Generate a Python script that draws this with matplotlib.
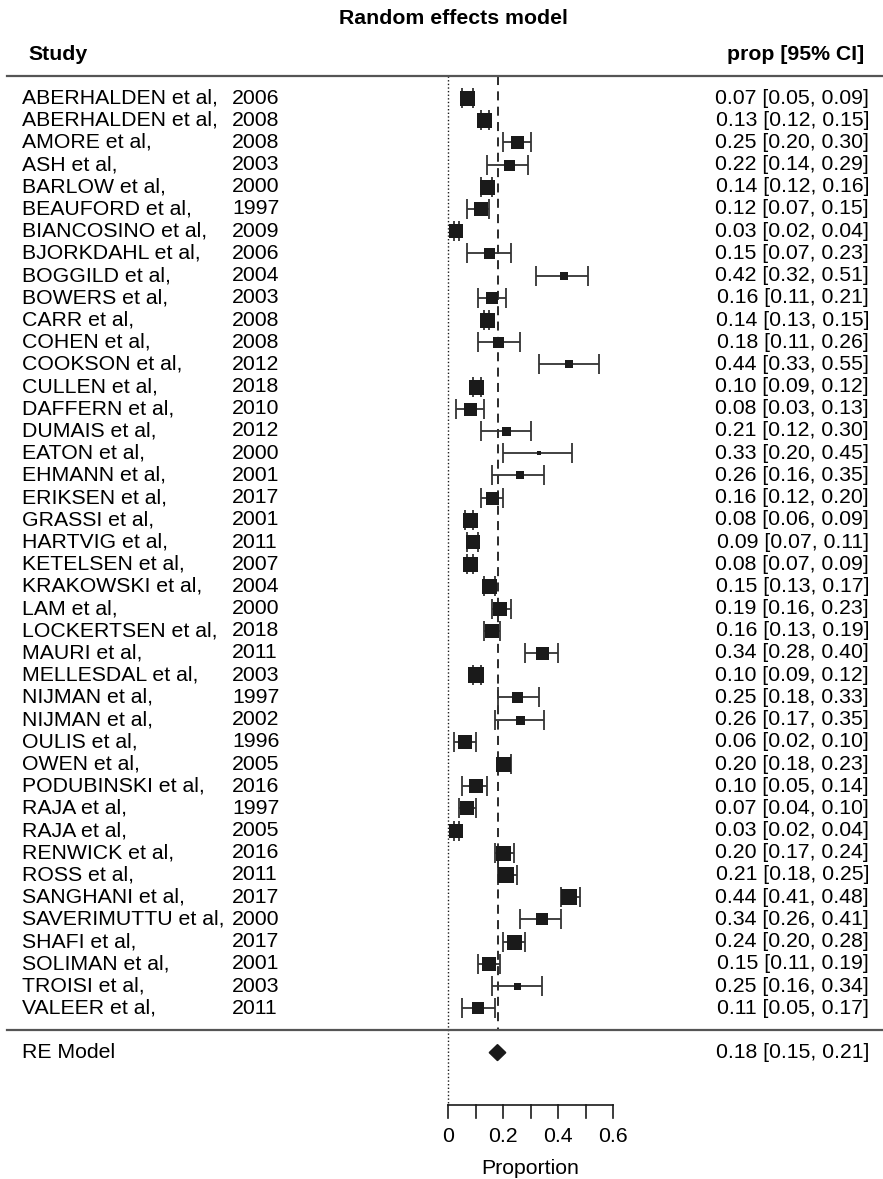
import numpy as np
import matplotlib
matplotlib.use("Agg")
import matplotlib.pyplot as plt
from matplotlib.patches import Polygon

plt.rcParams['font.family'] = ['Liberation Sans', 'DejaVu Sans']

authors = ["ABERHALDEN", "ABERHALDEN", "AMORE", "ASH", "BARLOW", "BEAUFORD",
           "BIANCOSINO", "BJORKDAHL", "BOGGILD", "BOWERS", "CARR", "COHEN",
           "COOKSON", "CULLEN", "DAFFERN", "DUMAIS", "EATON", "EHMANN",
           "ERIKSEN", "GRASSI", "HARTVIG", "KETELSEN", "KRAKOWSKI", "LAM",
           "LOCKERTSEN", "MAURI", "MELLESDAL", "NIJMAN", "NIJMAN", "OULIS",
           "OWEN", "PODUBINSKI", "RAJA", "RAJA", "RENWICK", "ROSS",
           "SANGHANI", "SAVERIMUTTU", "SHAFI", "SOLIMAN", "TROISI", "VALEER"]
years = [2006, 2008, 2008, 2003, 2000, 1997, 2009, 2006, 2004, 2003, 2008, 2008,
         2012, 2018, 2010, 2012, 2000, 2001, 2017, 2001, 2011, 2007, 2004, 2000,
         2018, 2011, 2003, 1997, 2002, 1996, 2005, 2016, 1997, 2005, 2016, 2011,
         2017, 2000, 2017, 2001, 2003, 2011]
prop = [0.07, 0.13, 0.25, 0.22, 0.14, 0.12, 0.03, 0.15, 0.42, 0.16, 0.14, 0.18,
        0.44, 0.10, 0.08, 0.21, 0.33, 0.26, 0.16, 0.08, 0.09, 0.08, 0.15, 0.19,
        0.16, 0.34, 0.10, 0.25, 0.26, 0.06, 0.20, 0.10, 0.07, 0.03, 0.20, 0.21,
        0.44, 0.34, 0.24, 0.15, 0.25, 0.11]
lower = [0.05, 0.12, 0.20, 0.14, 0.12, 0.07, 0.02, 0.07, 0.32, 0.11, 0.13, 0.11,
         0.33, 0.09, 0.03, 0.12, 0.20, 0.16, 0.12, 0.06, 0.07, 0.07, 0.13, 0.16,
         0.13, 0.28, 0.09, 0.18, 0.17, 0.02, 0.18, 0.05, 0.04, 0.02, 0.17, 0.18,
         0.41, 0.26, 0.20, 0.11, 0.16, 0.05]
upper = [0.09, 0.15, 0.30, 0.29, 0.16, 0.15, 0.04, 0.23, 0.51, 0.21, 0.15, 0.26,
         0.55, 0.12, 0.13, 0.30, 0.45, 0.35, 0.20, 0.09, 0.11, 0.09, 0.17, 0.23,
         0.19, 0.40, 0.12, 0.33, 0.35, 0.10, 0.23, 0.14, 0.10, 0.04, 0.24, 0.25,
         0.48, 0.41, 0.28, 0.19, 0.34, 0.17]
# box widths (pixels), they follow the study weights
box_px = [15, 15, 13, 11, 15, 14, 14, 11, 8, 12, 15, 11,
          8, 15, 13, 9, 5, 8, 13, 15, 14, 15, 15, 14,
          14, 13, 16, 11, 9, 14, 15, 14, 14, 14, 15, 16,
          16, 12, 15, 14, 7, 12]
re_est, re_lo, re_hi = 0.18, 0.15, 0.21
xticks = [0, 0.1, 0.2, 0.3, 0.4, 0.5, 0.6]
xticklabels = ["0", "", "0.2", "", "0.4", "", "0.6"]

W, H = 883, 1179
x0_px, scale = 448, 275.0       # pixel of x=0, pixels per unit
y0_px, row_px = 98, 22.2        # pixel of first row, pixels per row

fig = plt.figure(figsize=(W / 100, H / 100), dpi=100)
ax = fig.add_axes([0, 0, 1, 1])
ax.set_xlim(-x0_px / scale, (W - x0_px) / scale)
ax.set_ylim((H - y0_px) / row_px, -y0_px / row_px)
ax.axis('off')

def px_x(p):
    return (p - x0_px) / scale

def px_y(p):
    return (p - y0_px) / row_px

k = len(prop)
rows = np.arange(k)
fs = 15.3
ink = '#1a1a1a'

# reference lines
ax.plot([0, 0], [-1, px_y(1105)], color=ink, lw=1.0, ls=(0, (1, 1.6)))
ax.plot([re_est, re_est], [-1, k], color=ink, lw=1.3, ls=(0, (5, 3.5)))

# header / footer rules
ax.plot([px_x(7), px_x(W)], [-1, -1], color='#555555', lw=1.6)
ax.plot([px_x(7), px_x(W)], [k, k], color='#555555', lw=1.6)

# study estimates
for i in range(k):
    ax.errorbar(prop[i], rows[i], xerr=[[prop[i] - lower[i]], [upper[i] - prop[i]]],
                fmt='none', ecolor='#333333', elinewidth=1.3, capsize=7.5, capthick=1.3)
    ax.plot(prop[i], rows[i], marker='s', ms=box_px[i] * 0.72, color=ink, mec=ink, mew=0)
    ax.text(px_x(22), rows[i], authors[i] + " et al,", fontsize=fs, va='center', ha='left')
    ax.text(px_x(232), rows[i], str(years[i]), fontsize=fs, va='center', ha='left')
    ax.text(px_x(869), rows[i], "{:.2f} [{:.2f}, {:.2f}]".format(prop[i], lower[i], upper[i]),
            fontsize=fs, va='center', ha='right')

# summary diamond
re_row = k + 1
half_h = 8 / row_px
ax.add_patch(Polygon([[re_lo, re_row], [re_est, re_row - half_h], [re_hi, re_row],
                      [re_est, re_row + half_h]], closed=True, color=ink))
ax.text(px_x(22), re_row, "RE Model", fontsize=fs, va='center', ha='left')
ax.text(px_x(869), re_row, "{:.2f} [{:.2f}, {:.2f}]".format(re_est, re_lo, re_hi),
        fontsize=fs, va='center', ha='right')

# headers
ax.text(px_x(453), px_y(19), "Random effects model", fontsize=fs, fontweight='bold',
        ha='center', va='center')
ax.text(px_x(28), px_y(55), "Study", fontsize=fs, fontweight='bold', ha='left', va='center')
ax.text(px_x(864), px_y(55), "prop [95% CI]", fontsize=fs, fontweight='bold',
        ha='right', va='center')

# x axis drawn by hand below the rows
y_axis = px_y(1105)
tick_len = 13 / row_px
ax.plot([xticks[0], xticks[-1]], [y_axis, y_axis], color=ink, lw=1.2)
for t, lab in zip(xticks, xticklabels):
    ax.plot([t, t], [y_axis, y_axis + tick_len], color=ink, lw=1.2)
    if lab:
        ax.text(t, px_y(1137), lab, fontsize=fs, ha='center', va='center')
ax.text(0.3, px_y(1168), "Proportion", fontsize=fs, ha='center', va='center')

fig.savefig("out.png", dpi=100)
